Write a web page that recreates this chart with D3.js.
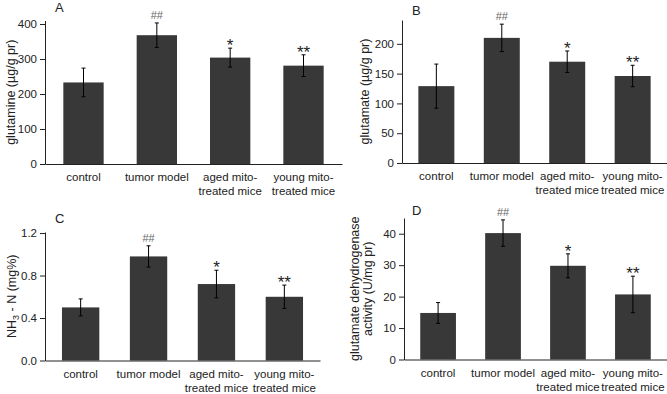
<html>
<head>
<script src="https://cdn.jsdelivr.net/npm/d3@7"></script>
<style>
  body { margin: 0; background: #fff; }
  text { font-family: Arial, "Liberation Sans", sans-serif; fill: #222; }
</style>
</head>
<body>
<svg id="chart" width="667" height="394"></svg>
<script>
// groups on the x axis (each label may wrap on two lines)
let categories = ["control", "tumor model", "aged mito-treated mice", "young mito-treated mice"]
let categoryLines = [["control"], ["tumor model"], ["aged mito-", "treated mice"], ["young mito-", "treated mice"]]
let marks = ["", "##", "*", "**"]

// panel A
let glutamine = [233, 368, 304, 281]
let glutamineErr = [41, 35, 27, 31]
let glutamineTicks = [0, 100, 200, 300, 400]

// panel B
let glutamate = [129, 210, 170, 146]
let glutamateErr = [37, 23, 18, 18]
let glutamateTicks = [0, 50, 100, 150, 200]

// panel C
let ammonia = [0.50, 0.98, 0.72, 0.60]
let ammoniaErr = [0.08, 0.10, 0.13, 0.11]
let ammoniaTicks = [0, 0.4, 0.8, 1.2]

// panel D
let gdh = [14.8, 40.2, 29.8, 20.7]
let gdhErr = [3.3, 4.2, 3.8, 5.8]
let gdhTicks = [0, 10, 20, 30, 40]

let svg = d3.select("#chart")
let barColor = "#383838"

function drawPanel(p) {
    let g = svg.append("g")

    let x = d3.scaleBand()
        .domain(categories)
        .range([p.x0, p.x1])
        .paddingInner(0.45)
        .paddingOuter(0.25)

    let y = d3.scaleLinear()
        .domain([0, p.max])
        .range([p.bottom, p.top])

    let rows = categories.map((c, i) => ({ c: c, v: p.values[i], e: p.errors[i], m: marks[i] }))

    g.selectAll("rect.bar")
        .data(rows)
        .enter()
        .append("rect")
        .attr("class", "bar")
        .attr("x", d => x(d.c))
        .attr("width", x.bandwidth())
        .attr("y", d => y(d.v))
        .attr("height", d => y(0) - y(d.v))
        .style("fill", barColor)

    // error bars
    let eb = g.selectAll("g.err")
        .data(rows)
        .enter()
        .append("g")
        .attr("class", "err")
        .attr("transform", d => "translate(" + (x(d.c) + x.bandwidth() / 2) + ",0)")
    eb.append("line")
        .attr("y1", d => y(d.v + d.e)).attr("y2", d => y(d.v - d.e))
        .style("stroke", "#000").style("stroke-width", 1)
    eb.append("line")
        .attr("x1", -2).attr("x2", 2)
        .attr("y1", d => y(d.v + d.e)).attr("y2", d => y(d.v + d.e))
        .style("stroke", "#000").style("stroke-width", 1)
    eb.append("line")
        .attr("x1", -2).attr("x2", 2)
        .attr("y1", d => y(d.v - d.e)).attr("y2", d => y(d.v - d.e))
        .style("stroke", "#000").style("stroke-width", 1)

    // significance marks
    eb.append("text")
        .attr("text-anchor", "middle")
        .attr("y", d => d.m == "##" ? y(d.v + d.e) - 4 : y(d.v + d.e) + 3)
        .style("font-size", d => d.m == "##" ? "11px" : "17px")
        .style("fill", d => d.m == "##" ? "#666" : "#222")
        .text(d => d.m)

    // y axis
    let yAxis = d3.axisLeft(y)
        .tickValues(p.ticks)
        .tickSize(5)
        .tickSizeOuter(0)
        .tickPadding(3)
    let ya = g.append("g")
        .attr("transform", "translate(" + p.x0 + ",0)")
        .call(yAxis)
    ya.select(".domain").style("stroke", "#222")
    ya.selectAll(".tick line").style("stroke", "#222")
    ya.selectAll(".tick text").style("font-size", "11.5px").style("fill", "#222")
        .style("font-family", "Arial, 'Liberation Sans', sans-serif")

    // x axis
    let xAxis = d3.axisBottom(x).tickSize(0).tickSizeOuter(0).tickFormat("")
    let xa = g.append("g")
        .attr("transform", "translate(0," + p.bottom + ")")
        .call(xAxis)
    xa.select(".domain").style("stroke", "#222")
    xa.selectAll(".tick").each(function (c, i) {
        let t = d3.select(this).append("text")
            .attr("text-anchor", "middle")
            .style("font-size", "11.5px")
            .style("fill", "#222")
        categoryLines[i].forEach((line, k) => {
            t.append("tspan").attr("x", 0).attr("y", 17 + k * 14).text(line)
        })
    })

    // panel letter
    g.append("text")
        .attr("x", p.letterX).attr("y", p.letterY)
        .style("font-size", "13px")
        .text(p.letter)

    // axis title
    let mid = (p.top + p.bottom) / 2
    let lab = g.append("text")
        .attr("transform", "translate(" + p.labelX + "," + mid + ") rotate(-90)")
        .attr("text-anchor", "middle")
        .style("font-size", "12.5px")
    p.label(lab)
}

drawPanel({
    letter: "A", letterX: 55, letterY: 12,
    x0: 45, x1: 342, bottom: 164, top: 20.5, max: 410,
    values: glutamine, errors: glutamineErr, ticks: glutamineTicks,
    labelX: 11,
    label: t => t.attr("dy", "0.35em").text("glutamine (µg/g pr)")
})

drawPanel({
    letter: "B", letterX: 412, letterY: 15,
    x0: 402, x1: 667, bottom: 163, top: 20, max: 240,
    values: glutamate, errors: glutamateErr, ticks: glutamateTicks,
    labelX: 365,
    label: t => t.attr("dy", "0.35em").text("glutamate (µg/g pr)")
})

drawPanel({
    letter: "C", letterX: 55, letterY: 223,
    x0: 45, x1: 320, bottom: 360.5, top: 232, max: 1.21,
    values: ammonia, errors: ammoniaErr, ticks: ammoniaTicks,
    labelX: 12,
    label: t => {
        t.attr("y", 4)
        t.append("tspan").text("NH")
        t.append("tspan").attr("dy", 3).style("font-size", "9px").text("3")
        t.append("tspan").attr("dy", -3).text(" - N (mg%)")
    }
})

drawPanel({
    letter: "D", letterX: 412, letterY: 215,
    x0: 404, x1: 667, bottom: 359.5, top: 218, max: 45,
    values: gdh, errors: gdhErr, ticks: gdhTicks,
    labelX: 361,
    label: t => {
        t.append("tspan").attr("x", 0).attr("y", -2).text("glutamate dehydrogenase")
        t.append("tspan").attr("x", 0).attr("y", 11).text("activity (U/mg pr)")
    }
})
</script>
</body>
</html>
